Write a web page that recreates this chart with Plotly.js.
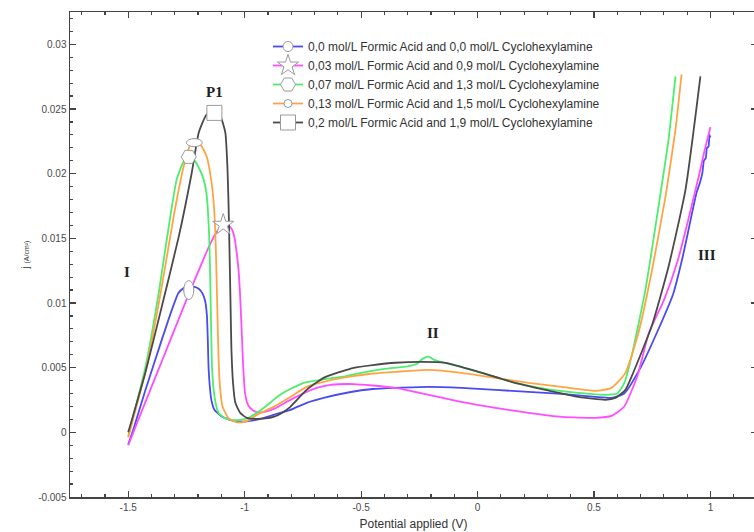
<!DOCTYPE html>
<html>
<head>
<meta charset="utf-8">
<script src="https://cdn.plot.ly/plotly-3.0.1.min.js"></script>
<style>
html,body{margin:0;padding:0;overflow:hidden;background:#fff;}
#chart{width:758px;height:532px;}
</style>
</head>
<body>
<div id="chart"></div>
<script>
// Series names
const seriesNames = [
  "0,0 mol/L Formic Acid and 0,0 mol/L Cyclohexylamine",
  "0,03 mol/L Formic Acid and 0,9 mol/L Cyclohexylamine",
  "0,07 mol/L Formic Acid and 1,3 mol/L Cyclohexylamine",
  "0,13 mol/L Formic Acid and 1,5 mol/L Cyclohexylamine",
  "0,2 mol/L Formic Acid and 1,9 mol/L Cyclohexylamine"
];

// Tick values and labels
const xTickVals = [-1.5,-1,-0.5,0,0.5,1];
const xTickText = ["-1.5","-1","-0.5","0","0.5","1"];
const yTickVals = [-0.005,0,0.005,0.01,0.015,0.02,0.025,0.03];
const yTickText = ["-0.005","0","0.005","0.01","0.015","0.02","0.025","0.03"];

// Potential (V) and current density j (A/cm2) per series
const blueV = [-1.500,-1.476,-1.426,-1.356,-1.310,-1.285,-1.262,-1.240,-1.215,-1.197,-1.180,-1.169,-1.162,-1.158,-1.155,-1.150,-1.143,-1.130,-1.100,-1.069,-1.040,-1.010,-0.970,-0.920,-0.876,-0.804,-0.734,-0.661,-0.550,-0.450,-0.352,-0.210,-0.069,0.077,0.219,0.361,0.506,0.575,0.630,0.700,0.770,0.840,0.880,0.910,0.940,0.955,0.965,0.972,0.980,0.985,0.992,0.996,1.000];
const blueJ = [-0.00095,0.00034,0.00328,0.00715,0.00960,0.01075,0.01115,0.01128,0.01125,0.01110,0.01070,0.01010,0.00900,0.00700,0.00500,0.00360,0.00250,0.00175,0.00125,0.00100,0.00085,0.00082,0.00090,0.00110,0.00135,0.00173,0.00228,0.00266,0.00310,0.00335,0.00344,0.00352,0.00344,0.00328,0.00313,0.00297,0.00274,0.00266,0.00300,0.00500,0.00770,0.01070,0.01350,0.01600,0.01850,0.01930,0.02000,0.02100,0.02120,0.02200,0.02210,0.02300,0.02280];

const magentaV = [-1.500,-1.450,-1.400,-1.350,-1.300,-1.250,-1.200,-1.150,-1.120,-1.100,-1.085,-1.070,-1.055,-1.043,-1.035,-1.026,-1.018,-1.012,-1.006,-0.998,-0.985,-0.965,-0.940,-0.910,-0.870,-0.804,-0.734,-0.691,-0.632,-0.532,-0.450,-0.352,-0.210,-0.069,0.077,0.219,0.361,0.506,0.575,0.630,0.687,0.736,0.800,0.860,0.907,0.950,0.975,1.000];
const magentaJ = [-0.00100,0.00127,0.00351,0.00575,0.00800,0.01024,0.01240,0.01449,0.01550,0.01585,0.01600,0.01598,0.01570,0.01500,0.01400,0.01250,0.01000,0.00750,0.00500,0.00300,0.00210,0.00170,0.00153,0.00160,0.00185,0.00251,0.00313,0.00344,0.00367,0.00373,0.00362,0.00344,0.00290,0.00235,0.00189,0.00150,0.00119,0.00112,0.00127,0.00200,0.00440,0.00770,0.01020,0.01330,0.01660,0.01980,0.02180,0.02360];

const greenV = [-1.500,-1.426,-1.369,-1.326,-1.292,-1.262,-1.240,-1.215,-1.195,-1.176,-1.165,-1.158,-1.152,-1.148,-1.145,-1.140,-1.130,-1.112,-1.085,-1.056,-1.019,-0.980,-0.948,-0.910,-0.876,-0.840,-0.804,-0.747,-0.661,-0.580,-0.500,-0.400,-0.300,-0.260,-0.235,-0.210,-0.185,-0.150,-0.100,0.004,0.146,0.292,0.433,0.549,0.600,0.630,0.661,0.721,0.777,0.820,0.850];
const greenJ = [-0.00030,0.00506,0.01079,0.01591,0.01954,0.02094,0.02125,0.02100,0.02040,0.01954,0.01860,0.01722,0.01500,0.01200,0.00900,0.00500,0.00280,0.00150,0.00110,0.00096,0.00096,0.00115,0.00150,0.00200,0.00251,0.00300,0.00335,0.00383,0.00410,0.00430,0.00460,0.00490,0.00510,0.00530,0.00570,0.00585,0.00560,0.00540,0.00520,0.00468,0.00390,0.00336,0.00305,0.00290,0.00300,0.00380,0.00584,0.01103,0.01745,0.02264,0.02752];

const orangeV = [-1.500,-1.421,-1.356,-1.305,-1.262,-1.233,-1.215,-1.190,-1.163,-1.142,-1.132,-1.126,-1.122,-1.118,-1.114,-1.108,-1.095,-1.070,-1.040,-1.010,-0.975,-0.948,-0.876,-0.804,-0.734,-0.661,-0.550,-0.450,-0.352,-0.210,-0.069,0.077,0.219,0.361,0.506,0.575,0.635,0.691,0.747,0.807,0.850,0.876];
const orangeJ = [-0.00040,0.00506,0.01126,0.01668,0.02055,0.02225,0.02240,0.02225,0.02133,0.01931,0.01750,0.01544,0.01300,0.01000,0.00700,0.00400,0.00200,0.00110,0.00081,0.00078,0.00100,0.00135,0.00197,0.00274,0.00352,0.00390,0.00430,0.00455,0.00468,0.00483,0.00460,0.00421,0.00383,0.00352,0.00321,0.00344,0.00460,0.00770,0.01234,0.01823,0.02342,0.02767];

const blackV = [-1.500,-1.426,-1.356,-1.283,-1.227,-1.197,-1.163,-1.133,-1.104,-1.083,-1.074,-1.069,-1.065,-1.061,-1.057,-1.050,-1.040,-1.019,-0.991,-0.948,-0.900,-0.876,-0.840,-0.804,-0.734,-0.661,-0.589,-0.532,-0.450,-0.352,-0.240,-0.137,0.004,0.146,0.292,0.433,0.549,0.592,0.635,0.661,0.747,0.820,0.893,0.957];
const blackJ = [0.00000,0.00465,0.00971,0.01513,0.02009,0.02318,0.02458,0.02473,0.02442,0.02318,0.02050,0.01750,0.01400,0.01025,0.00650,0.00383,0.00228,0.00150,0.00112,0.00104,0.00110,0.00119,0.00150,0.00197,0.00328,0.00421,0.00468,0.00499,0.00520,0.00538,0.00545,0.00537,0.00468,0.00390,0.00328,0.00274,0.00251,0.00266,0.00328,0.00429,0.00816,0.01281,0.01877,0.02752];

// One marker per series (peak markers)
const markerV = [-1.240,-1.092,-1.240,-1.216,-1.130];
const markerJ = [0.01100,0.01605,0.02130,0.02240,0.02470];

// Region labels
const labelText = ["P1","I","II","III"];
const labelV = [-1.130,-1.507,-0.190,0.985];
const labelJ = [0.0263,0.0124,0.0077,0.0137];

const colors = ["#4b4bf0","#ff4dff","#4ded6e","#ffa444","#4a4a4a"];
const symbols = ["circle","star","hexagon2","circle","square"];
const msizes = [10,16,15,8,15];

const curvesV = [blueV,magentaV,greenV,orangeV,blackV];
const curvesJ = [blueJ,magentaJ,greenJ,orangeJ,blackJ];

const traces = [];
for (let i=0;i<5;i++){
  traces.push({
    x: curvesV[i], y: curvesJ[i], type:'scatter', mode:'lines',
    line:{color:colors[i], width:1.8, shape:'spline', smoothing:0.5},
    showlegend:false, hoverinfo:'skip'
  });
}
for (let i=0;i<5;i++){
  traces.push({
    x:[markerV[i]], y:[markerJ[i]], type:'scatter', mode:'lines+markers',
    name: seriesNames[i],
    line:{color:colors[i], width:1.8},
    marker:{symbol:symbols[i], size:msizes[i], color:'#ffffff', line:{color:'#9a9a9a', width:1}},
    showlegend:true
  });
}

const xRange = [-1.75, 1.2], yRange = [-0.005, 0.0325];
const plotW = 687, plotH = 485;
// ellipse overlays for blue (tall) and orange (wide) markers
const pxV = (xRange[1]-xRange[0])/plotW, pxJ = (yRange[1]-yRange[0])/plotH;
const ellipses = [[0,10,19],[3,16,8]];
const shapes = ellipses.map(e=>{
  const i=e[0], w=e[1]*pxV/2, h=e[2]*pxJ/2;
  return {type:'circle', xref:'x', yref:'y', layer:'above',
    x0:markerV[i]-w, x1:markerV[i]+w, y0:markerJ[i]-h, y1:markerJ[i]+h,
    fillcolor:'#ffffff', line:{color:'#9a9a9a', width:1}};
});

const annotations = labelText.map((t,i)=>({
  x:labelV[i], y:labelJ[i], xref:'x', yref:'y', text:'<b>'+t+'</b>', showarrow:false,
  font:{family:'Liberation Serif, Times New Roman, serif', size:15, color:'#222'}
}));

const axisCommon = {
  showgrid:false, zeroline:false, showline:true, linecolor:'#444', linewidth:1.5,
  mirror:'allticks', ticks:'inside', ticklen:6, tickcolor:'#444', tickwidth:1.2,
  tickfont:{family:'Liberation Sans, Arial, sans-serif', size:10, color:'#4a4a4a'}
};

const layout = {
  width:758, height:532,
  margin:{l:70, r:1, t:12, b:35},
  paper_bgcolor:'#fff', plot_bgcolor:'#fff',
  xaxis: Object.assign({}, axisCommon, {
    range:xRange, tickmode:'array', tickvals:xTickVals, ticktext:xTickText,
    minor:{dtick:0.1, tick0:0, ticks:'inside', ticklen:3, tickcolor:'#444'},
    title:{text:'Potential applied (V)', standoff:8, font:{family:'Liberation Sans, Arial, sans-serif', size:12, color:'#333'}}
  }),
  yaxis: Object.assign({}, axisCommon, {
    range:yRange, tickmode:'array', tickvals:yTickVals, ticktext:yTickText,
    minor:{dtick:0.001, tick0:0, ticks:'inside', ticklen:3, tickcolor:'#444'},
    title:{text:'j <span style="font-size:7px">(A/cm²)</span>', standoff:6, font:{family:'Liberation Sans, Arial, sans-serif', size:10, color:'#333'}}
  }),
  legend:{x:(268-70)/plotW, y:(497-32)/plotH, xanchor:'left', yanchor:'top', bgcolor:'rgba(0,0,0,0)',
    font:{family:'Liberation Sans, Arial, sans-serif', size:12, color:'#333'}, tracegroupgap:0, itemwidth:30},
  shapes: shapes,
  annotations: annotations
};

Plotly.newPlot('chart', traces, layout, {displayModeBar:false, staticPlot:true});
</script>
</body>
</html>
